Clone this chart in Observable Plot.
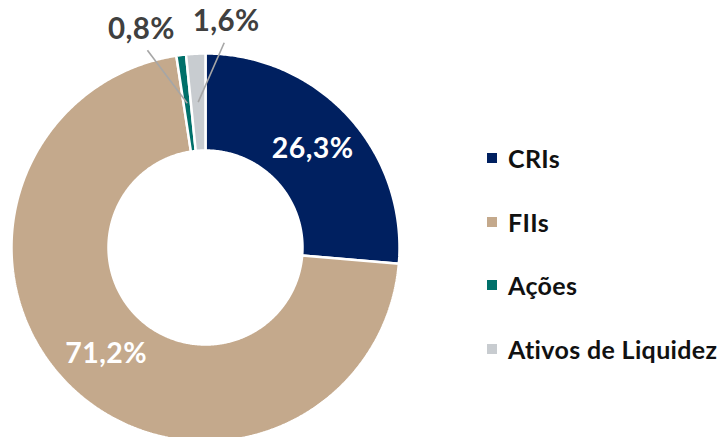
<!DOCTYPE html>
<html><head><meta charset="utf-8">
<script src="https://cdn.jsdelivr.net/npm/d3@7"></script>
<script src="https://cdn.jsdelivr.net/npm/@observablehq/plot@0.6"></script>
<style>
body{margin:0;background:#fff;font-family:Lato,"Open Sans",sans-serif}
#wrap{position:relative;width:720px;height:437px;overflow:hidden}
#legend{position:absolute;left:487px;top:126px}
.row{display:flex;align-items:center;height:63.7px;font-weight:700;font-size:25px;letter-spacing:0.35px;color:#111}
.sw{width:10px;height:10px;margin-right:11px;flex:none}
#chart text{letter-spacing:0.4px}
</style></head>
<body><div id="wrap"><div id="chart"></div><div id="legend"></div></div>
<script>
const categories = ["CRIs", "FIIs", "Ações", "Ativos de Liquidez"];
const values = [26.3, 71.2, 0.8, 1.6];
const valueLabels = ["26,3%", "71,2%", "0,8%", "1,6%"];
const colors = ["#002060", "#C4A98C", "#00706A", "#C8CCD0"];

const total = d3.sum(values);
const inner = 0.5;
const deg = Math.PI / 180;
const pt = (r, a) => ({x: r * Math.sin(a), y: r * Math.cos(a)});

let cum = 0;
const poly = [], insideLabels = [], outsideLabels = [], leaders = [];
values.forEach((v, i) => {
  const a0 = cum / total * 2 * Math.PI;
  cum += v;
  const a1 = cum / total * 2 * Math.PI;
  const n = Math.max(4, Math.ceil((a1 - a0) / (0.5 * deg)));
  const pts = [];
  for (let k = 0; k <= n; k++) pts.push(pt(1, a0 + (a1 - a0) * k / n));
  for (let k = n; k >= 0; k--) pts.push(pt(inner, a0 + (a1 - a0) * k / n));
  pts.push(pts[0]);
  pts.forEach(p => poly.push({...p, cat: categories[i]}));
  const mid = (a0 + a1) / 2;
  const c = pt((1 + inner) / 2, mid);
  if (v / total > 0.05) {
    insideLabels.push({...c, text: valueLabels[i]});
  } else {
    const shift = (outsideLabels.length === 0 ? -9.2 : 8.1) * deg;
    const la = mid + shift;
    const lp = pt(1.17, la);
    const ls = pt(1.06, la);
    outsideLabels.push({...lp, text: valueLabels[i]});
    leaders.push({x1: ls.x, y1: ls.y, x2: c.x, y2: c.y});
  }
});

const chart = Plot.plot({
  width: 420,
  height: 437,
  margin: 0,
  x: {domain: [-1, 1], range: [11, 399], axis: null},
  y: {domain: [-1, 1], range: [441, 53], axis: null},
  color: {domain: categories, range: colors},
  marks: [
    Plot.line(poly, {x: "x", y: "y", z: "cat", fill: "cat", stroke: "white", strokeWidth: 2.5, strokeLinejoin: "miter"}),
    Plot.link(leaders, {x1: "x1", y1: "y1", x2: "x2", y2: "y2", stroke: "#A6A6A6", strokeWidth: 1.6}),
    Plot.text(insideLabels, {x: "x", y: "y", text: "text", fill: "white", fontSize: 28.5, fontWeight: 700, fontFamily: "Lato"}),
    Plot.text(outsideLabels, {x: "x", y: "y", text: "text", fill: "#404040", fontSize: 29.5, fontWeight: 700, fontFamily: "Lato"})
  ]
});
document.getElementById("chart").appendChild(chart);

const legend = document.getElementById("legend");
categories.forEach((c, i) => {
  const row = document.createElement("div");
  row.className = "row";
  row.innerHTML = `<span class="sw" style="background:${colors[i]}"></span><span>${c}</span>`;
  legend.appendChild(row);
});
</script>
</body></html>
